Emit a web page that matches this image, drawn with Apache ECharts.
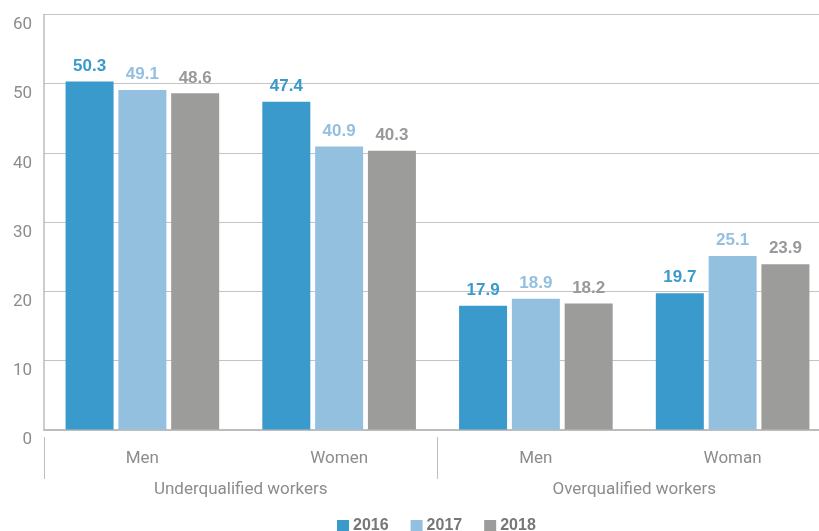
<!DOCTYPE html>
<html>
<head>
<meta charset="utf-8">
<script src="https://cdn.jsdelivr.net/npm/echarts@6/dist/echarts.min.js"></script>
<style>
  html, body { margin: 0; padding: 0; background: #fff; }
  #chart { width: 819px; height: 531px; }
</style>
</head>
<body>
<div id="chart"></div>
<script>
// Categories and values
const categories = ['Men', 'Women', 'Men', 'Woman'];
const groups = ['Underqualified workers', 'Overqualified workers'];
const years = ['2016', '2017', '2018'];
const values2016 = [50.3, 47.4, 17.9, 19.7];
const values2017 = [49.1, 40.9, 18.9, 25.1];
const values2018 = [48.6, 40.3, 18.2, 23.9];
const yTicks = { min: 0, max: 60, interval: 10 };

const colors = ['#3a9acb', '#94c0e0', '#9c9c9b'];
const labelColors = ['#3a9acb', '#94c0e0', '#999999'];
const seriesValues = [values2016, values2017, values2018];

const axisGray = '#bdbdbd';
const textGray = '#8c8c8c';

const chart = echarts.init(document.getElementById('chart'));

chart.setOption({
  animation: false,
  // plot area runs a little past the right edge of the canvas
  grid: { left: 44, width: 787, top: 14.5, bottom: 101.5, containLabel: false, outerBoundsMode: 'none' },
  legend: {
    data: years,
    left: 337,
    top: 518,
    padding: 0,
    itemWidth: 12,
    itemHeight: 12,
    itemGap: 22,
    icon: 'rect',
    textStyle: { color: '#777', fontWeight: 'bold', fontSize: 16, fontFamily: 'Liberation Sans', padding: [2, 0, 0, -1] }
  },
  xAxis: [
    {
      type: 'category',
      data: categories,
      axisTick: { show: false },
      axisLine: { show: true, lineStyle: { color: axisGray, width: 2 } },
      axisLabel: { margin: 21, fontSize: 17, color: textGray, fontFamily: 'Roboto' }
    },
    {
      type: 'category',
      data: groups,
      position: 'bottom',
      offset: 7.5,
      axisLine: { show: false },
      axisTick: { show: true, length: 42, lineStyle: { color: axisGray, width: 1 } },
      axisLabel: { margin: 44, fontSize: 17, color: textGray, fontFamily: 'Roboto' }
    }
  ],
  yAxis: {
    type: 'value',
    min: yTicks.min,
    max: yTicks.max,
    interval: yTicks.interval,
    axisLine: { show: true, lineStyle: { color: axisGray, width: 1.5 } },
    axisTick: { show: false },
    splitLine: { lineStyle: { color: '#c4c4c4', width: 1 } },
    axisLabel: {
      margin: 12,
      fontSize: 17,
      color: textGray,
      fontFamily: 'Roboto',
      verticalAlign: 'top',
      lineHeight: 21
    }
  },
  series: years.map((y, i) => ({
    name: y,
    type: 'bar',
    xAxisIndex: 0,
    data: seriesValues[i],
    barWidth: 48,
    barGap: '10%',
    itemStyle: { color: colors[i] },
    label: {
      show: true,
      position: 'top',
      distance: 7,
      color: labelColors[i],
      fontWeight: 'bold',
      fontSize: 17,
      fontFamily: 'Liberation Sans',
      formatter: p => p.value.toFixed(1)
    }
  }))
});
</script>
</body>
</html>
